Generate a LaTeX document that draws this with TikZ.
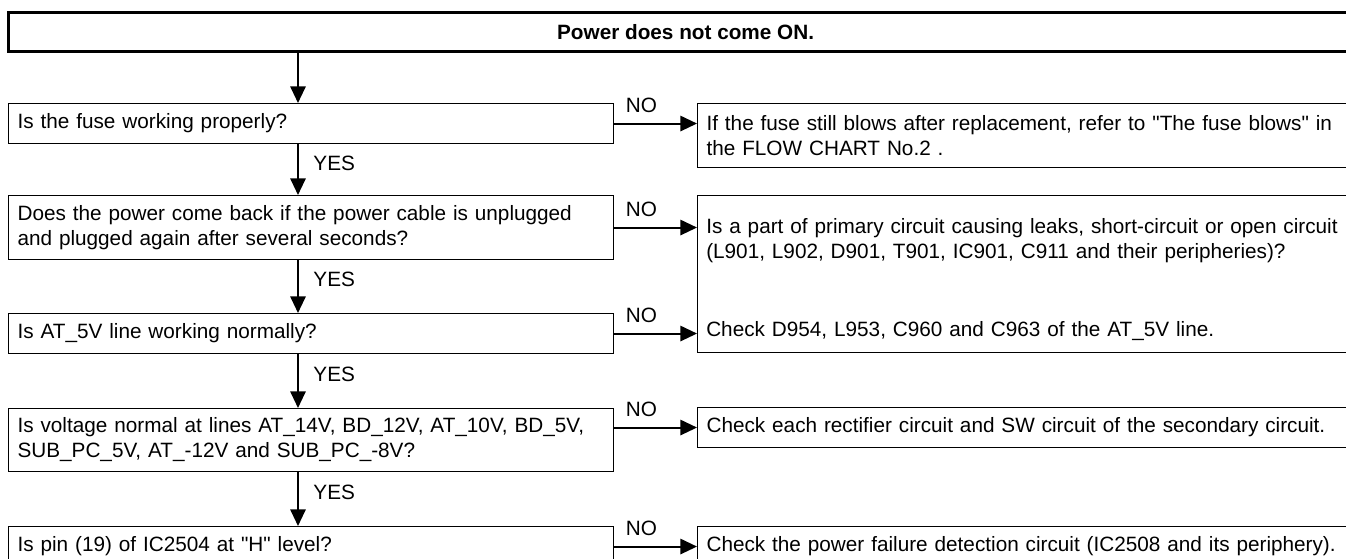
\documentclass[tikz,border=0pt]{standalone}
\usepackage{fontspec}
\setmainfont{Liberation Sans}
\usetikzlibrary{arrows.meta,positioning,calc}

\begin{document}
\begin{tikzpicture}[
    x=0.75pt, y=-0.75pt,
    txt/.style={font=\fontsize{15.55}{18.75}\selectfont, align=left},
    qbox/.style={txt, draw, line width=0.8pt, anchor=north west, inner xsep=6.75pt, text width=440.25pt},
    abox/.style={txt, draw, line width=0.8pt, anchor=north west, inner xsep=6.75pt, text width=513.75pt},
    atext/.style={txt, anchor=west, inner xsep=6.75pt, text width=513.75pt},
    titlebox/.style={draw, line width=2.4pt, anchor=north west, minimum width=1015.5pt, minimum height=29.25pt, font=\fontsize{15.55}{18.75}\selectfont\bfseries},
    arr/.style={-{Triangle[length=12.5pt, width=11.5pt]}, line width=1.5pt},
    yes/.style={right, xshift=7.5pt, pos=0.37, font=\fontsize{15.55}{18.75}\selectfont},
    no/.style={above=7pt, inner sep=0pt, pos=0.33, font=\fontsize{15.55}{18.75}\selectfont},
  ]
  \useasboundingbox (0,0) rectangle (1346,559);
  \clip (0,0) rectangle (1346,559);

  \node[titlebox] (title) at (7,11) {Power does not come ON.};
  \coordinate (spine) at (298,0);

  \node[qbox, minimum height=30pt] (q1) at (8,103) {Is the fuse working properly?};
  \node[qbox, minimum height=48pt] (q2) at (8,195) {Does the power come back if the power cable is unplugged\\and plugged again after several seconds?};
  \node[qbox, minimum height=30pt] (q3) at (8,313) {Is AT\_5V line working normally?};
  \node[qbox, minimum height=47.25pt] (q4) at (8,408) {Is voltage normal at lines AT\_14V, BD\_12V, AT\_10V, BD\_5V,\\SUB\_PC\_5V, AT\_-12V and SUB\_PC\_-8V?};
  \node[qbox, minimum height=30pt] (q5) at (8,526) {Is pin (19) of IC2504 at \textquotedbl H\textquotedbl{} level?};

  \node[abox, minimum height=48pt] (a1) at (697,103) {If the fuse still blows after replacement, refer to \textquotedbl The fuse blows\textquotedbl{} in\\the FLOW CHART No.2 .};
  \node[abox, minimum height=117.75pt] (a2) at (697,195) {};
  \node[atext] (a2top) at (697,241) {Is a part of primary circuit causing leaks, short-circuit or open circuit\\(L901, L902, D901, T901, IC901, C911 and their peripheries)?};
  \node[atext] (a2bot) at (697,331) {Check D954, L953, C960 and C963 of the AT\_5V line.};
  \node[abox, minimum height=30pt] (a4) at (697,407) {Check each rectifier circuit and SW circuit of the secondary circuit.};
  \node[abox, minimum height=30pt] (a5) at (697,526) {Check the power failure detection circuit (IC2508 and its periphery).};

  \draw[arr] (spine |- title.south) -- (spine |- q1.north);
  \draw[arr] (spine |- q1.south) -- node[yes] {YES} (spine |- q2.north);
  \draw[arr] (spine |- q2.south) -- node[yes] {YES} (spine |- q3.north);
  \draw[arr] (spine |- q3.south) -- node[yes] {YES} (spine |- q4.north);
  \draw[arr] (spine |- q4.south) -- node[yes] {YES} (spine |- q5.north);

  \draw[arr] (q1.east) -- node[no] {NO} (q1.east -| a1.west);
  \draw[arr] (q2.east) -- node[no] {NO} (q2.east -| a2.west);
  \draw[arr] (q3.east) -- node[no] {NO} (q3.east -| a2.west);
  \draw[arr] (a4.west -| q4.east) -- node[no] {NO} (a4.west);
  \draw[arr] (q5.east) -- node[no] {NO} (q5.east -| a5.west);
\end{tikzpicture}
\end{document}
